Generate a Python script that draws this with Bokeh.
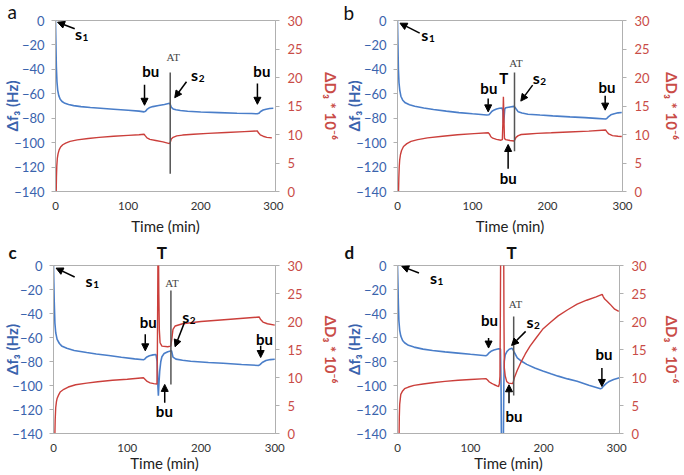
import math
from bokeh.plotting import figure
from bokeh.models import Range1d, LinearAxis, FixedTicker, Label, Arrow, NormalHead
from bokeh.layouts import column, row
from bokeh.embed import file_html
from bokeh.resources import INLINE

# ---------------- data (time in min, shift in Hz, dissipation * 1e-6) ----------------
time_ticks = [0, 100, 200, 300]
df_ticks = [-140, -120, -100, -80, -60, -40, -20, 0]
dd_ticks = [0, 5, 10, 15, 20, 25, 30]

a_freq = [(0, 0), (0.6, -20), (1.2, -38), (2, -50), (3, -57), (4.5, -61.5), (6.5, -64.5), (9, -66.3),
          (13, -67.8), (18, -68.8), (25, -69.7), (35, -70.5), (48, -71.2), (62, -71.8), (80, -72.6),
          (100, -73.5), (115, -74.2), (122, -74.8), (124, -74.3), (126, -72.8), (129, -71.5), (134, -70.5),
          (142, -69.6), (150, -68.7), (157, -67.8), (158, -68.5), (159.5, -71), (162, -72.4), (166, -73.1),
          (172, -73.7), (182, -74.3), (200, -74.9), (225, -75.4), (250, -75.9), (270, -76.2), (278, -76.4),
          (280, -76.0), (282.5, -74.5), (286, -73.3), (290, -72.6), (295, -72.1), (300, -71.9)]
a_diss = [(1.0, 0), (1.3, 2.5), (1.8, 4.5), (2.5, 5.8), (3.5, 6.6), (5, 7.3), (7, 7.8), (10, 8.2), (14, 8.5),
          (20, 8.8), (30, 9.05), (45, 9.3), (60, 9.5), (80, 9.7), (100, 9.85), (115, 9.95), (122, 10.05),
          (123.5, 9.8), (126, 9.4), (130, 9.15), (138, 8.95), (148, 8.7), (157, 8.4), (158, 8.6), (159.5, 9.2),
          (162, 9.5), (167, 9.75), (175, 9.9), (190, 10.05), (210, 10.2), (235, 10.35), (260, 10.5),
          (278, 10.62), (279.5, 10.3), (282, 9.95), (286, 9.7), (291, 9.5), (298, 9.4)]

b_freq = [(0, 0), (0.6, -20), (1.2, -40), (2, -51), (3, -57), (4.5, -62), (7, -65.3), (10.4, -67.4),
          (16, -69), (23, -70.2), (35, -71.6), (48, -72.9), (65, -74.2), (82, -75.4), (100, -76.4),
          (119, -77.4), (122, -77.2), (124, -75.8), (126, -74.3), (129, -73.2), (132, -72.4), (136, -71.9),
          (139.5, -71.6), (140.5, -74), (141.3, -84), (142.2, -79), (143, -72.5), (144.3, -71.4), (150, -70.8),
          (155, -70.3), (156.5, -71), (158, -72.3), (161, -74.8), (166, -75.8), (174, -76.7), (190, -77.4),
          (207, -78.1), (230, -78.9), (250, -79.5), (265, -80.1), (277.4, -80.6), (279, -80.2), (281, -78.9),
          (284.5, -77.2), (289, -76.3), (294, -75.6), (299, -75.3)]
b_diss = [(1.4, 0), (1.8, 2.5), (2.3, 4.3), (2.9, 5.5), (4, 6.5), (5.4, 7.2), (8, 7.9), (12.5, 8.4), (18, 8.8),
          (27, 9.1), (40, 9.4), (60, 9.7), (80, 9.95), (102, 10.15), (121, 10.3), (122.5, 10.1), (124.5, 9.6),
          (127, 9.35), (132, 9.15), (138, 9.0), (139.8, 9.1), (140.5, 12), (141.2, 16.6), (141.9, 13),
          (142.6, 9.3), (144.3, 9.1), (150, 8.95), (155.5, 8.85), (156.5, 9.1), (158, 9.5), (161, 9.8),
          (165, 10.0), (175, 10.1), (186, 10.2), (205, 10.3), (228, 10.45), (255, 10.6), (277.4, 10.8),
          (279, 10.5), (281.6, 10.1), (286.6, 9.8), (294, 9.7), (299, 9.65)]

c_freq = [(0, 0), (0.5, -15), (1, -30), (1.9, -48), (3, -56), (4.9, -61.5), (8, -65), (11, -67), (18, -69),
          (28, -70.8), (45, -72.5), (58, -73.7), (75, -75), (92, -76.5), (110, -77.8), (122, -78.6),
          (124, -77.8), (126, -76.4), (130, -75.2), (135, -74.5), (139, -74.2), (140.5, -80), (141.5, -100),
          (142.2, -108.5), (143, -98), (144, -88), (145.5, -80), (147, -76), (150, -73.3), (155, -71.8),
          (160, -71), (160.8, -73), (162, -76.4), (166, -78), (175, -79), (186, -79.8), (210, -80.8),
          (230, -81.5), (255, -82.5), (278, -83.3), (280, -82.6), (283, -80.8), (288, -79.2), (294, -78.4),
          (300, -78.1)]
c_diss = [(1.9, 0), (2.3, 2.5), (3, 4.6), (4, 5.7), (5, 6.3), (7, 6.9), (9, 7.4), (14, 7.9), (20, 8.3),
          (30, 8.7), (45, 9.0), (60, 9.25), (80, 9.5), (100, 9.7), (122, 9.95), (124, 9.7), (127, 9.3),
          (131, 9.05), (136, 8.9), (140.3, 8.85), (140.8, 14), (141.3, 24), (141.7, 34), (142.3, 34),
          (142.8, 25), (143.5, 18.5), (144.5, 16.2), (147, 15.6), (155, 15.5), (159, 15.6), (160.5, 17),
          (162, 18.6), (165, 19.2), (175, 19.6), (200, 20.0), (240, 20.4), (279, 20.8), (280.5, 20.4),
          (284, 19.9), (290, 19.6), (300, 19.35)]

d_freq = [(0, 0), (0.6, -15), (1.2, -32), (1.9, -46), (3, -54), (4.5, -58.8), (7, -62.5), (9.7, -64.4),
          (15, -66.5), (22.6, -68), (35, -69.7), (48, -70.8), (65, -72), (83, -73), (100, -74), (121, -75.2),
          (123, -74.5), (125, -73), (128, -71.5), (132, -70.5), (138.5, -69.4), (141, -69.5), (141.8, -100),
          (142.3, -145), (145, -145), (145.6, -100), (146.2, -80), (147.5, -74.5), (150, -71.5), (153, -69.8),
          (156.6, -69), (158, -70), (160, -72.5), (164, -76.9), (170, -79.8), (177, -82.4), (188, -85.5),
          (199, -88), (210, -90.3), (220, -92.2), (233, -94.5), (246, -96.4), (262, -99.7), (278, -102.8),
          (280, -102.2), (282, -100.5), (286, -98.2), (289, -96.9), (296, -95), (304, -93.6)]
d_diss = [(2.2, 0), (2.5, 3), (3, 5.2), (4.5, 7), (7, 7.6), (9.7, 8.0), (15, 8.3), (22.6, 8.6), (35, 8.85),
          (48, 9.05), (65, 9.3), (83, 9.5), (100, 9.65), (121, 9.8), (123, 9.6), (125.8, 9.2), (129, 8.95),
          (132, 8.75), (136, 8.5), (138.5, 8.4), (139.5, 8.9), (140.3, 10.2), (140.8, 20), (141.3, 34),
          (145.4, 34), (145.8, 20), (146.3, 11.7), (147.5, 10.3), (149.5, 9.3), (152, 9.0), (157.5, 8.9),
          (158.5, 9.2), (160, 9.95), (164, 11.3), (168.6, 12.6), (175, 14.2), (181.5, 15.6), (190, 17.1),
          (198.7, 18.6), (210, 19.9), (220, 21), (233, 22.1), (246, 23.1), (259, 23.8), (272, 24.4),
          (280.3, 24.85), (281.5, 24.5), (283.7, 24), (287, 23.6), (291, 23.1), (297.4, 22.2), (303, 21.8)]

# ---------------- styling ----------------
BLUE_LINE = "#4A7EC9"
RED_LINE = "#CB3F3B"
BLUE_TXT = "#3A63AD"
RED_TXT = "#C94C47"
AXIS_GRAY = "#B0B0B0"
FONT = "Lato"
NB = "\u00a0"

panels = [
    dict(title="a", tbold=False, tsize="19px", freq=a_freq, diss=a_diss, xmax=303, w=342, h=237,
         ls=-10, rs=16, xs=4, toff=-48, tstand=-5,
         at=(158, -42.6, -125.5), at_txt=(162.3, -30.2),
         arrows=[(26.5, -6.8, 2.8, -1.4), (122.6, -52.7, 122.6, -69.4), (180.4, -50.2, 164.2, -63.2),
                 (278.1, -51.6, 278.1, -68.6)],
         words=[(131, -41.6, "bu"), (284.2, -41.6, "bu")],
         subs=[(31.6, -10.3, "1"), (191.6, -44.5, "2")]),
    dict(title="b", tbold=False, tsize="19px", freq=b_freq, diss=b_diss, xmax=300, w=341, h=237,
         ls=-10, rs=10, xs=4, toff=-54, tstand=-6,
         at=(156, -42.5, -107.1), at_txt=(157.9, -34.5),
         arrows=[(29.6, -10.4, 3.3, -2.2), (120.9, -63.9, 120.9, -74.8), (180.2, -52.9, 164.4, -66),
                 (147.5, -121.4, 147.5, -101.5), (276.9, -61.7, 276.9, -73.4)],
         words=[(121.8, -54.9, "bu"), (141.8, -46.7, "T"), (147.5, -128.7, "bu"), (279.4, -54.5, "bu")],
         subs=[(36.4, -11.5, "1"), (184.9, -46.7, "2")]),
    dict(title="c" + NB * 34 + "T", tbold=True, tsize="17px", freq=c_freq, diss=c_diss, xmax=301, w=342, h=237,
         ls=-12, rs=16, xs=-1, toff=-45, tstand=5,
         at=(159.2, -20.8, -99.1), at_txt=(160.5, -14.9),
         arrows=[(28.7, -9.6, 3.5, -2.2), (124.4, -57.2, 124.4, -71.1), (177.6, -47.4, 164.8, -67.7),
                 (150.8, -114.4, 150.8, -99.1), (280.9, -66.9, 280.9, -76.7)],
         words=[(128.6, -46.8, "bu"), (150.3, -121.4, "bu"), (286, -61.2, "bu")],
         subs=[(48.2, -12.2, "1"), (179.2, -42.3, "2")]),
    dict(title="d" + NB * 37 + "T", tbold=True, tsize="17px", freq=d_freq, diss=d_diss, xmax=304, w=341, h=237,
         ls=-10, rs=13, xs=-1, toff=-53, tstand=5,
         at=(159.1, -42.4, -108.3), at_txt=(161.7, -31.7),
         arrows=[(29.4, -6.3, 5.8, -0.7), (124.7, -60.5, 124.7, -68.8), (175.5, -54.9, 156.2, -66.6),
                 (152.7, -114.7, 152.7, -99.4), (279.9, -85.5, 279.9, -100.8)],
         words=[(126, -45.7, "bu"), (159.4, -125.1, "bu"), (282.9, -74.1, "bu")],
         subs=[(49.2, -9.8, "1"), (181.4, -46.9, "2")]),
]


def style_axis(ax, color, size, standoff, tick_out):
    ax.major_tick_out = tick_out
    ax.major_tick_in = 0
    ax.minor_tick_out = 0
    ax.minor_tick_in = 0
    ax.axis_line_color = AXIS_GRAY
    ax.major_tick_line_color = AXIS_GRAY
    ax.major_label_text_font = FONT
    ax.major_label_text_font_size = size
    ax.major_label_text_color = color
    ax.major_label_standoff = standoff


def make_panel(cfg):
    p = figure(x_range=Range1d(0, cfg["xmax"]), y_range=Range1d(-140, 0),
               width=cfg["w"], height=cfg["h"],
               min_border_left=0, min_border_right=0, min_border_top=0, min_border_bottom=0,
               title=cfg["title"], output_backend="svg", toolbar_location=None)
    p.title.align = "left"
    p.title.offset = cfg["toff"]
    p.title.standoff = cfg["tstand"]
    p.title.vertical_align = "bottom"
    p.title.text_font = FONT
    p.title.text_font_style = "bold" if cfg["tbold"] else "normal"
    p.title.text_font_size = cfg["tsize"]
    p.title.text_color = "#111111"

    p.extra_y_ranges = {"D": Range1d(0, 30)}
    p.xgrid.visible = False
    p.ygrid.visible = False
    p.outline_line_color = AXIS_GRAY
    p.background_fill_color = "white"
    p.border_fill_color = "white"

    xa = p.xaxis[0]
    xa.ticker = FixedTicker(ticks=time_ticks)
    style_axis(xa, "#333333", "11.5px", 10, 0)
    xa.axis_label = "Time (min)"
    xa.axis_label_text_font = FONT
    xa.axis_label_text_font_style = "normal"
    xa.axis_label_text_font_size = "15px"
    xa.axis_label_text_color = "#222222"
    xa.axis_label_standoff = cfg["xs"]

    ya = p.yaxis[0]
    ya.ticker = FixedTicker(ticks=df_ticks)
    style_axis(ya, BLUE_TXT, "13px", 7, 4)
    ya.axis_label = "Δf₃ (Hz)"
    ya.axis_label_text_font = FONT
    ya.axis_label_text_font_style = "bold"
    ya.axis_label_text_font_size = "15px"
    ya.axis_label_text_color = BLUE_TXT
    ya.axis_label_standoff = cfg["ls"]

    ra = LinearAxis(y_range_name="D", ticker=FixedTicker(ticks=dd_ticks))
    style_axis(ra, RED_TXT, "13px", 8, 4)
    ra.axis_label = "ΔD₃ * 10⁻⁶"
    ra.axis_label_text_font = FONT
    ra.axis_label_text_font_style = "bold"
    ra.axis_label_text_font_size = "15px"
    ra.axis_label_text_color = RED_TXT
    ra.axis_label_standoff = cfg["rs"]
    p.add_layout(ra, "right")

    ft = [pt[0] for pt in cfg["freq"]]
    fv = [pt[1] for pt in cfg["freq"]]
    dt = [pt[0] for pt in cfg["diss"]]
    dv = [pt[1] for pt in cfg["diss"]]
    p.line(ft, fv, line_color=BLUE_LINE, line_width=1.6)
    p.line(dt, dv, line_color=RED_LINE, line_width=1.4, y_range_name="D")

    at_t, at_y0, at_y1 = cfg["at"]
    p.segment(x0=[at_t], y0=[at_y0], x1=[at_t], y1=[at_y1], line_color="#555555", line_width=1.5)
    p.add_layout(Label(x=cfg["at_txt"][0], y=cfg["at_txt"][1], text="AT", text_font="Liberation Serif",
                       text_font_size="11px", text_color="#444444", text_align="center",
                       text_baseline="middle"))

    for (x0, y0, x1, y1) in cfg["arrows"]:
        p.add_layout(Arrow(x_start=x0, y_start=y0, x_end=x1, y_end=y1, line_color="black", line_width=1.5,
                           end=NormalHead(size=7, line_color="black", fill_color="black", line_width=1)))
    for (x, y, t) in cfg["words"]:
        p.add_layout(Label(x=x, y=y, text=t, text_font=FONT, text_font_style="bold", text_font_size="15px",
                           text_color="black", text_align="center", text_baseline="middle"))
    for (x, y, sub) in cfg["subs"]:
        p.add_layout(Label(x=x, y=y, text="s", text_font=FONT, text_font_style="bold", text_font_size="16px",
                           text_color="black", text_align="center", text_baseline="middle"))
        p.add_layout(Label(x=x, y=y, x_offset=7, y_offset=-4, text=sub, text_font=FONT,
                           text_font_style="bold", text_font_size="10px", text_color="black",
                           text_align="center", text_baseline="middle"))
    return p


figs = [make_panel(c) for c in panels]
layout = column(row(figs[0], figs[1]), row(figs[2], figs[3]))
open("out.html", "w").write(file_html(layout, INLINE))
